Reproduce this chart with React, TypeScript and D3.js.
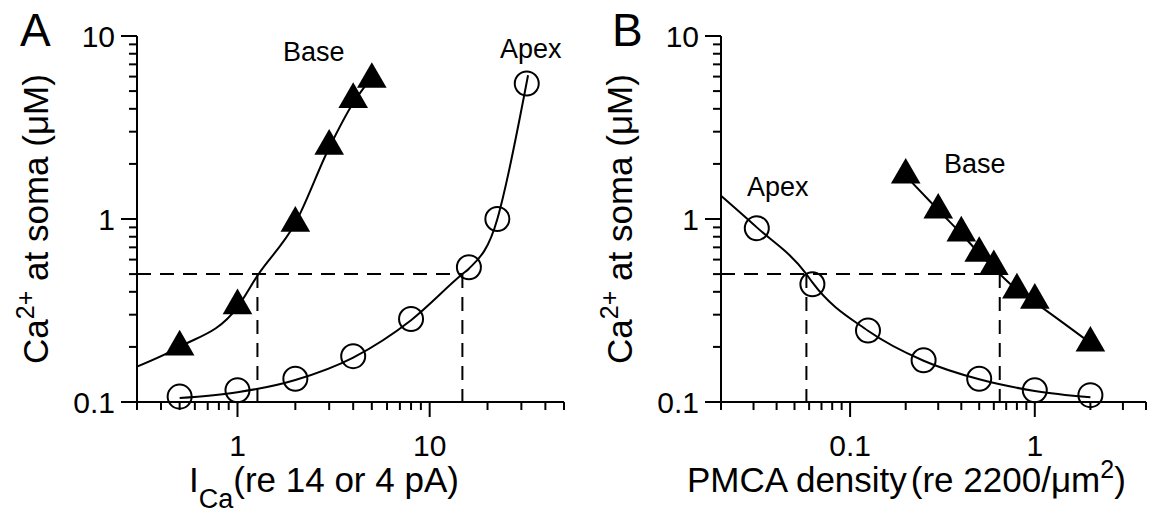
import React from "react";
import * as d3 from "d3";

// ---------- data ----------
const yMajorTicks = [0.1, 1, 10];
const yMajorLabels = ["0.1", "1", "10"];
const xMajorTicksA = [1, 10];
const xMajorLabelsA = ["1", "10"];
const xMajorTicksB = [0.1, 1];
const xMajorLabelsB = ["0.1", "1"];

// Panel A: Ca at soma vs I_Ca
const baseA_x = [0.5, 1, 2, 3, 4, 5];
const baseA_y = [0.2, 0.336, 0.95, 2.5, 4.5, 5.8];
const apexA_x = [0.5, 1, 2, 4, 8, 16, 22.5, 32];
const apexA_y = [0.107, 0.116, 0.134, 0.178, 0.284, 0.545, 1.0, 5.5];
const baseFitA_x = [0.3, 0.5, 1, 1.27, 2, 3, 4, 4.6];
const baseFitA_y = [0.156, 0.2, 0.33, 0.49, 0.95, 2.45, 4.3, 5.3];
const apexFitA_x = [0.5, 1, 2, 4, 8, 14.8, 16, 22.5, 24, 32.5];
const apexFitA_y = [0.105, 0.113, 0.132, 0.175, 0.28, 0.5, 0.535, 1.0, 1.3, 6.1];
const dashA_y = 0.5;
const dashA_x = [1.27, 14.8];

// Panel B: Ca at soma vs PMCA density
const baseB_x = [0.2, 0.3, 0.4, 0.5, 0.6, 0.8, 1, 2];
const baseB_y = [1.74, 1.12, 0.84, 0.65, 0.55, 0.41, 0.36, 0.21];
const apexB_x = [0.03125, 0.0625, 0.125, 0.25, 0.5, 1, 2];
const apexB_y = [0.89, 0.44, 0.246, 0.169, 0.134, 0.116, 0.109];
const baseFitB_x = [0.2, 0.3, 0.4, 0.5, 0.646, 0.8, 1, 2];
const baseFitB_y = [1.72, 1.12, 0.83, 0.65, 0.5, 0.41, 0.35, 0.21];
const apexFitB_x = [0.02, 0.03125, 0.058, 0.0625, 0.125, 0.25, 0.5, 1, 2];
const apexFitB_y = [1.34, 0.9, 0.5, 0.45, 0.245, 0.168, 0.133, 0.115, 0.106];
const dashB_y = 0.5;
const dashB_x = [0.058, 0.646];

// ---------- layout ----------
const W = 1156;
const H = 516;
const FONT = "'Liberation Sans', Arial, Helvetica, sans-serif";
const Y_TOP = 36;
const Y_BOT = 402;

type PanelProps = {
  letter: string;
  letterX: number;
  titleX: number;
  x0: number;
  x1: number;
  xDomain: [number, number];
  xMajor: number[];
  xMajorLabels: string[];
  base: [number[], number[]];
  apex: [number[], number[]];
  baseFit: [number[], number[]];
  apexFit: [number[], number[]];
  dashY: number;
  dashX: number[];
  xTitle: React.ReactNode;
  baseLabel: [number, number];
  apexLabel: [number, number];
};

function Panel(p: PanelProps) {
  const x = d3.scaleLog().domain(p.xDomain).range([p.x0, p.x1]);
  const y = d3.scaleLog().domain([0.1, 10]).range([Y_BOT, Y_TOP]);
  const xTicks = x.ticks();
  const yTicks = y.ticks();
  const isMajor = (v: number) => Math.abs(Math.log10(v) - Math.round(Math.log10(v))) < 1e-6;

  const line = d3
    .line<[number, number]>()
    .x((d) => d[0])
    .y((d) => d[1])
    .curve(d3.curveMonotoneX);
  const toPts = (xs: number[], ys: number[]) =>
    xs.map((v, i) => [x(v), y(ys[i])] as [number, number]);

  const tri = d3.symbol(d3.symbolTriangle, 380)();

  const stroke = "#000";
  const dash = "14,9";
  return (
    <g>
      <text x={p.letterX} y={46} fontSize={46} fontFamily={FONT}>
        {p.letter}
      </text>
      {/* y title */}
      <text
        transform={`translate(${p.titleX},${(Y_TOP + Y_BOT) / 2}) rotate(-90)`}
        textAnchor="middle"
        fontSize={35}
        fontFamily={FONT}
      >
        Ca<tspan dy={-14} fontSize={25}>2+</tspan>
        <tspan dy={14}> at soma (μM)</tspan>
      </text>
      {/* y axis */}
      <line x1={p.x0} x2={p.x0} y1={Y_TOP} y2={Y_BOT} stroke={stroke} strokeWidth={2} />
      {yTicks.map((v, i) => (
        <line
          key={"yt" + i}
          x1={p.x0}
          x2={p.x0 - (isMajor(v) ? 16 : 8)}
          y1={y(v)}
          y2={y(v)}
          stroke={stroke}
          strokeWidth={2}
        />
      ))}
      {yMajorTicks.map((v, i) => (
        <text
          key={"yl" + i}
          x={p.x0 - 22}
          y={y(v) + 11}
          textAnchor="end"
          fontSize={30}
          fontFamily={FONT}
        >
          {yMajorLabels[i]}
        </text>
      ))}
      {/* x axis */}
      <line x1={p.x0} x2={p.x1} y1={Y_BOT} y2={Y_BOT} stroke={stroke} strokeWidth={2} />
      {xTicks.map((v, i) => (
        <line
          key={"xt" + i}
          x1={x(v)}
          x2={x(v)}
          y1={Y_BOT}
          y2={Y_BOT + (isMajor(v) ? 15 : 8)}
          stroke={stroke}
          strokeWidth={2}
        />
      ))}
      {p.xMajor.map((v, i) => (
        <text
          key={"xl" + i}
          x={x(v)}
          y={456}
          textAnchor="middle"
          fontSize={30}
          fontFamily={FONT}
        >
          {p.xMajorLabels[i]}
        </text>
      ))}
      {p.xTitle}
      {/* dashed guides */}
      <line
        x1={p.x0}
        x2={x(p.dashX[1])}
        y1={y(p.dashY)}
        y2={y(p.dashY)}
        stroke={stroke}
        strokeWidth={2}
        strokeDasharray={dash}
      />
      {p.dashX.map((v, i) => (
        <line
          key={"dx" + i}
          x1={x(v)}
          x2={x(v)}
          y1={y(p.dashY)}
          y2={Y_BOT}
          stroke={stroke}
          strokeWidth={2}
          strokeDasharray={dash}
        />
      ))}
      {/* fit curves */}
      <path d={line(toPts(p.baseFit[0], p.baseFit[1])) || ""} fill="none" stroke={stroke} strokeWidth={2} />
      <path d={line(toPts(p.apexFit[0], p.apexFit[1])) || ""} fill="none" stroke={stroke} strokeWidth={2} />
      {/* markers */}
      {p.apex[0].map((v, i) => (
        <circle
          key={"ap" + i}
          cx={x(v)}
          cy={y(p.apex[1][i])}
          r={12}
          fill="none"
          stroke={stroke}
          strokeWidth={2}
        />
      ))}
      {p.base[0].map((v, i) => (
        <path
          key={"bs" + i}
          d={tri || ""}
          transform={`translate(${x(v)},${y(p.base[1][i])})`}
          fill={stroke}
        />
      ))}
      <text x={p.baseLabel[0]} y={p.baseLabel[1]} fontSize={27} fontFamily={FONT}>
        Base
      </text>
      <text x={p.apexLabel[0]} y={p.apexLabel[1]} fontSize={27} fontFamily={FONT}>
        Apex
      </text>
    </g>
  );
}

export default function App() {
  return (
    <svg width={W} height={H} style={{ display: "block", position: "absolute", left: 0, top: 0, background: "#fff" }}>
      <rect x={0} y={0} width={W} height={H} fill="#fff" />
      <Panel
        letter="A"
        letterX={20}
        titleX={48}
        x0={137}
        x1={564}
        xDomain={[0.3, 50]}
        xMajor={xMajorTicksA}
        xMajorLabels={xMajorLabelsA}
        base={[baseA_x, baseA_y]}
        apex={[apexA_x, apexA_y]}
        baseFit={[baseFitA_x, baseFitA_y]}
        apexFit={[apexFitA_x, apexFitA_y]}
        dashY={dashA_y}
        dashX={dashA_x}
        baseLabel={[283, 61]}
        apexLabel={[500, 58]}
        xTitle={
          <text x={189} y={492} fontSize={35} fontFamily={FONT}>
            I<tspan dy={16} fontSize={27}>Ca</tspan>
            <tspan dy={-16}>(re 14 or 4 pA)</tspan>
          </text>
        }
      />
      <Panel
        letter="B"
        letterX={612}
        titleX={632}
        x0={721}
        x1={1146}
        xDomain={[0.02, 4]}
        xMajor={xMajorTicksB}
        xMajorLabels={xMajorLabelsB}
        base={[baseB_x, baseB_y]}
        apex={[apexB_x, apexB_y]}
        baseFit={[baseFitB_x, baseFitB_y]}
        apexFit={[apexFitB_x, apexFitB_y]}
        dashY={dashB_y}
        dashX={dashB_x}
        baseLabel={[944, 173]}
        apexLabel={[747, 196]}
        xTitle={
          <text x={687} y={492} fontSize={35} fontFamily={FONT}>
            PMCA density<tspan dx={4}>(re 2200/μm</tspan>
            <tspan dy={-14} fontSize={25}>2</tspan>
            <tspan dy={14}>)</tspan>
          </text>
        }
      />
    </svg>
  );
}
